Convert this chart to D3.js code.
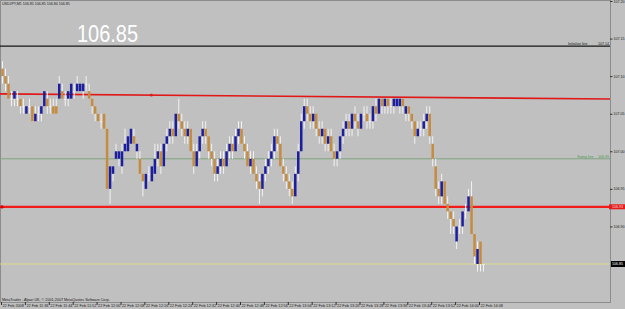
<!DOCTYPE html>
<html>
<head>
<meta charset="utf-8">
<script src="https://cdn.jsdelivr.net/npm/d3@7"></script>
<style>
  html, body { margin: 0; padding: 0; background: #c0c0c0; }
  svg { display: block; }
  text { font-family: "Liberation Sans", Arial, sans-serif; }
</style>
</head>
<body>
<div id="chart"></div>
<script>
// USDJPY M1, 22 Feb 2008, bar 0 = 11:28
const opens = [
  107.11,107.10,107.09,107.07,107.07,107.07,107.07,107.06,107.05,107.06,
  107.06,107.04,107.05,107.05,107.06,107.07,107.06,107.06,107.06,107.07,
  107.08,107.07,107.07,107.07,107.08,107.08,107.08,107.08,107.09,107.08,
  107.07,107.06,107.05,107.04,107.05,107.03,106.95,106.97,106.99,106.99,
  106.98,107.00,107.00,107.01,107.02,107.00,106.99,106.97,106.95,106.97,
  106.96,106.97,106.99,107.00,106.98,107.01,107.02,107.03,107.02,107.05,
  107.04,107.03,107.02,107.03,107.00,106.98,107.00,107.02,107.03,107.02,
  107.00,106.99,106.97,106.98,106.99,106.98,107.00,107.01,107.00,107.02,
  107.03,107.01,107.00,106.98,106.99,106.97,106.96,106.95,106.97,106.98,
  106.99,107.00,107.02,107.01,106.98,106.97,106.96,106.95,106.94,106.97,
  107.00,107.04,107.06,107.05,107.04,107.05,107.03,107.02,107.03,107.01,
  107.02,107.00,106.99,107.00,107.02,107.03,107.04,107.03,107.05,107.04,
  107.03,107.05,107.05,107.04,107.04,107.06,107.05,107.07,107.06,107.07,
  107.06,107.06,107.06,107.06,107.07,107.05,107.06,107.05,107.04,107.02,
  107.03,107.03,107.04,107.05,107.01,106.98,106.95,106.94,106.96,106.93,
  106.92,106.91,106.88,106.90,106.90,106.92,106.92,106.94,106.89,106.85,
  106.88,106.85
];
const highs = [
  107.12,107.11,107.10,107.08,107.08,107.08,107.07,107.07,107.06,107.07,
  107.06,107.06,107.06,107.06,107.08,107.08,107.07,107.07,107.07,107.10,
  107.09,107.08,107.08,107.09,107.09,107.10,107.09,107.09,107.10,107.09,
  107.07,107.06,107.05,107.05,107.05,107.03,106.98,106.98,107.01,107.00,
  107.01,107.03,107.02,107.03,107.03,107.01,107.00,106.97,106.97,106.98,
  106.98,107.01,107.01,107.01,107.01,107.03,107.04,107.04,107.05,107.07,
  107.05,107.04,107.04,107.03,107.01,107.01,107.02,107.04,107.04,107.02,
  107.01,107.00,106.99,107.00,107.00,107.01,107.02,107.02,107.03,107.04,
  107.04,107.02,107.01,107.00,107.00,106.98,106.97,106.97,106.99,107.00,
  107.01,107.03,107.03,107.02,106.99,106.98,106.97,106.96,106.98,107.01,
  107.05,107.07,107.07,107.06,107.06,107.05,107.04,107.04,107.03,107.03,
  107.03,107.01,107.00,107.02,107.04,107.05,107.05,107.05,107.06,107.05,
  107.05,107.06,107.06,107.05,107.06,107.07,107.07,107.07,107.07,107.07,
  107.07,107.07,107.07,107.07,107.07,107.06,107.06,107.05,107.04,107.04,
  107.04,107.05,107.06,107.06,107.02,106.99,106.96,106.97,106.96,106.94,
  106.92,106.92,106.90,106.91,106.92,106.93,106.95,106.96,106.89,106.88,
  106.88,106.85
];
const lows = [
  107.09,107.08,107.07,107.06,107.06,107.06,107.05,107.05,107.05,107.05,
  107.04,107.04,107.04,107.04,107.06,107.05,107.05,107.05,107.05,107.07,
  107.07,107.06,107.06,107.07,107.07,107.08,107.08,107.07,107.08,107.07,
  107.05,107.04,107.04,107.03,107.03,106.95,106.93,106.96,106.99,106.98,
  106.97,107.00,107.00,107.01,107.01,106.99,106.97,106.94,106.95,106.96,
  106.96,106.97,106.98,106.97,106.98,107.00,107.01,107.01,107.02,107.03,
  107.02,107.01,107.01,107.00,106.97,106.98,106.99,107.01,107.01,106.99,
  106.98,106.96,106.96,106.97,106.97,106.98,106.99,106.99,107.00,107.01,
  107.01,106.99,106.98,106.97,106.97,106.95,106.93,106.94,106.96,106.97,
  106.98,106.99,107.00,106.98,106.96,106.95,106.94,106.93,106.94,106.96,
  107.00,107.03,107.04,107.03,107.03,107.02,107.01,107.01,107.00,107.00,
  107.00,106.98,106.98,106.99,107.01,107.02,107.02,107.02,107.03,107.02,
  107.03,107.04,107.03,107.03,107.03,107.04,107.05,107.05,107.05,107.05,
  107.05,107.05,107.06,107.05,107.05,107.04,107.04,107.03,107.01,107.02,
  107.02,107.02,107.03,107.01,106.98,106.94,106.93,106.93,106.93,106.91,
  106.89,106.89,106.87,106.89,106.89,106.91,106.92,106.89,106.85,106.84,
  106.84,106.84
];
const closes = [
  107.10,107.09,107.07,107.07,107.08,107.07,107.06,107.06,107.06,107.06,
  107.04,107.05,107.05,107.06,107.08,107.06,107.06,107.05,107.05,107.09,
  107.07,107.07,107.08,107.09,107.08,107.09,107.09,107.09,107.09,107.07,
  107.06,107.05,107.04,107.04,107.03,106.95,106.98,106.98,107.00,107.00,
  107.00,107.01,107.02,107.03,107.01,107.01,106.97,106.96,106.97,106.97,
  106.98,106.99,107.00,106.98,107.01,107.02,107.03,107.02,107.05,107.04,
  107.03,107.02,107.03,107.00,106.98,107.00,107.02,107.03,107.02,107.00,
  106.99,106.97,106.98,106.99,106.98,107.00,107.01,107.00,107.02,107.03,
  107.01,107.00,106.98,106.99,106.97,106.96,106.95,106.97,106.98,106.99,
  107.00,107.02,107.01,106.98,106.97,106.96,106.95,106.94,106.97,107.00,
  107.04,107.06,107.05,107.04,107.05,107.03,107.02,107.03,107.01,107.02,
  107.00,106.99,107.00,107.02,107.03,107.04,107.03,107.05,107.04,107.03,
  107.05,107.05,107.04,107.04,107.06,107.05,107.07,107.06,107.07,107.06,
  107.06,107.07,107.07,107.07,107.06,107.06,107.05,107.04,107.02,107.03,
  107.03,107.04,107.05,107.02,106.99,106.95,106.94,106.96,106.93,106.92,
  106.91,106.90,106.90,106.90,106.92,106.92,106.94,106.89,106.86,106.87,
  106.85,106.85
];

const priceTicks = [107.20, 107.15, 107.10, 107.05, 107.00, 106.95, 106.90];
const timeLabels = [
  "22 Feb 2008", "22 Feb 11:36", "22 Feb 11:44", "22 Feb 11:52", "22 Feb 12:00",
  "22 Feb 12:08", "22 Feb 12:16", "22 Feb 12:24", "22 Feb 12:32", "22 Feb 12:40",
  "22 Feb 12:48", "22 Feb 12:56", "22 Feb 13:04", "22 Feb 13:12", "22 Feb 13:20",
  "22 Feb 13:28", "22 Feb 13:36", "22 Feb 13:44", "22 Feb 13:52", "22 Feb 14:00",
  "22 Feb 14:08"
];
const labelEvery = 8; // bars between time labels

// drawn objects
const initLevel = 107.14;
const swingLevel = 106.99;
const supportLevel = 106.926;
const bidPrice = 106.85;
const trendBars = [50, 200];
const trendPrices = [107.0747, 107.0697];

const W = 625, H = 309;
const plotR = 610, plotB = 302;

const svg = d3.select("#chart").append("svg")
  .attr("width", W).attr("height", H);

svg.append("rect").attr("width", W).attr("height", H).attr("fill", "#c0c0c0");

const x = d3.scaleLinear().domain([0, 160]).range([2, 480]);
const y = d3.scaleLinear().domain([106.85, 107.20]).range([264, 1]);
const fmt = d3.format(".2f");

const plot = svg.append("g");

// frame
plot.append("rect")
  .attr("x", 0.5).attr("y", 0.5)
  .attr("width", plotR).attr("height", plotB)
  .attr("fill", "none").attr("stroke", "#8c8c8c");

// black level line
plot.append("line")
  .attr("x1", 0).attr("x2", plotR)
  .attr("y1", y(initLevel)).attr("y2", y(initLevel))
  .attr("stroke", "#161616").attr("stroke-width", 1.3);
plot.append("text")
  .attr("x", 568).attr("y", y(initLevel) - 1.2)
  .attr("font-size", 3.6).attr("fill", "#202020")
  .text("Initialize line");
plot.append("text")
  .attr("x", 609).attr("y", y(initLevel) - 1.2)
  .attr("text-anchor", "end")
  .attr("font-size", 3.6).attr("fill", "#202020")
  .text(fmt(initLevel));

// green swing line
plot.append("line")
  .attr("x1", 0).attr("x2", plotR)
  .attr("y1", y(swingLevel)).attr("y2", y(swingLevel))
  .attr("stroke", "#7fa47f").attr("stroke-width", 1);
plot.append("text")
  .attr("x", 577).attr("y", y(swingLevel) - 1.2)
  .attr("font-size", 3.6).attr("fill", "#4f9a4f")
  .text("Swing line");
plot.append("text")
  .attr("x", 609).attr("y", y(swingLevel) - 1.2)
  .attr("text-anchor", "end")
  .attr("font-size", 3.6).attr("fill", "#4f9a4f")
  .text(fmt(swingLevel));

// yellow bid line
plot.append("line")
  .attr("x1", 0).attr("x2", plotR)
  .attr("y1", y(bidPrice)).attr("y2", y(bidPrice))
  .attr("stroke", "#dcdc8c").attr("stroke-width", 1);

// red trend line (ray across the chart)
const slope = (trendPrices[1] - trendPrices[0]) / (trendBars[1] - trendBars[0]);
const barAt = px => x.invert(px);
const trendAt = b => trendPrices[0] + (b - trendBars[0]) * slope;
plot.append("line")
  .attr("x1", 0).attr("y1", y(trendAt(barAt(0))))
  .attr("x2", plotR).attr("y2", y(trendAt(barAt(plotR))))
  .attr("stroke", "#e01818").attr("stroke-width", 1.6);
plot.append("circle")
  .attr("cx", x(trendBars[0])).attr("cy", y(trendPrices[0]))
  .attr("r", 1.4).attr("fill", "#e01818");

// red support line
plot.append("line")
  .attr("x1", 0).attr("x2", plotR)
  .attr("y1", y(supportLevel)).attr("y2", y(supportLevel))
  .attr("stroke", "#f01c1c").attr("stroke-width", 2.2);
plot.append("circle")
  .attr("cx", 2).attr("cy", y(supportLevel))
  .attr("r", 1.6).attr("fill", "#d00000");

// candles
const bars = d3.range(opens.length).map(i => ({
  i, o: opens[i], h: highs[i], l: lows[i], c: closes[i]
}));

const candle = plot.append("g").selectAll("g").data(bars).join("g");

candle.append("line")
  .attr("x1", d => x(d.i) + 0.5).attr("x2", d => x(d.i) + 0.5)
  .attr("y1", d => y(d.h)).attr("y2", d => y(d.l))
  .attr("stroke", "#f2f2f2").attr("stroke-width", 1);

candle.append("rect")
  .attr("x", d => x(d.i) - 0.75)
  .attr("width", 2.5)
  .attr("y", d => y(Math.max(d.o, d.c)))
  .attr("height", d => Math.max(1, Math.abs(y(d.o) - y(d.c))))
  .attr("fill", d => d.c > d.o ? "#1b1f9e" : d.c < d.o ? "#c58b3e" : "#efefef");

// big price text
svg.append("text")
  .attr("x", 77).attr("y", 42)
  .attr("font-size", 23).attr("fill", "#ffffff")
  .attr("textLength", 61).attr("lengthAdjust", "spacingAndGlyphs")
  .text(fmt(closes[closes.length - 1]));

// top-left info
svg.append("text")
  .attr("x", 2).attr("y", 5)
  .attr("font-size", 3.6).attr("fill", "#1a1a1a")
  .text("USDJPY,M1 " + [opens, highs, lows, closes].map(a => fmt(a[a.length - 1])).join(" "));

// copyright
svg.append("text")
  .attr("x", 2).attr("y", 300.5)
  .attr("font-size", 3.7).attr("fill", "#1a1a1a")
  .text("MetaTrader - Alpari UK, \u00a9 2001-2007 MetaQuotes Software Corp.");

// price axis
const pAxis = svg.append("g");
priceTicks.forEach(p => {
  pAxis.append("line")
    .attr("x1", plotR).attr("x2", plotR + 2.5)
    .attr("y1", y(p) + 0.5).attr("y2", y(p) + 0.5)
    .attr("stroke", "#303030");
  pAxis.append("text")
    .attr("x", plotR + 3.5).attr("y", Math.max(3.2, y(p) + 1.4))
    .attr("font-size", 3.6).attr("fill", "#1a1a1a")
    .text(fmt(p));
});

// support price label
pAxis.append("rect")
  .attr("x", plotR - 1).attr("y", y(supportLevel) - 2.6)
  .attr("width", W - plotR + 1).attr("height", 5)
  .attr("fill", "#e41c1c");
pAxis.append("text")
  .attr("x", plotR + 2).attr("y", y(supportLevel) + 1.4)
  .attr("font-size", 3.6).attr("fill", "#ffdede")
  .text(fmt(supportLevel));

// bid price label
pAxis.append("rect")
  .attr("x", plotR + 1).attr("y", y(bidPrice) - 3)
  .attr("width", W - plotR - 1).attr("height", 6)
  .attr("fill", "#000000");
pAxis.append("text")
  .attr("x", plotR + 2).attr("y", y(bidPrice) + 1.4)
  .attr("font-size", 3.6).attr("fill", "#ffffff")
  .text(fmt(bidPrice));

// time axis
const tAxis = svg.append("g");
timeLabels.forEach((t, k) => {
  const px = x(k * labelEvery);
  tAxis.append("line")
    .attr("x1", px - 0.5).attr("x2", px - 0.5)
    .attr("y1", plotB).attr("y2", plotB + 3)
    .attr("stroke", "#303030");
  tAxis.append("text")
    .attr("x", px + 0.5).attr("y", 306.8)
    .attr("font-size", 3.8).attr("fill", "#1a1a1a")
    .text(t);
});
</script>
</body>
</html>
